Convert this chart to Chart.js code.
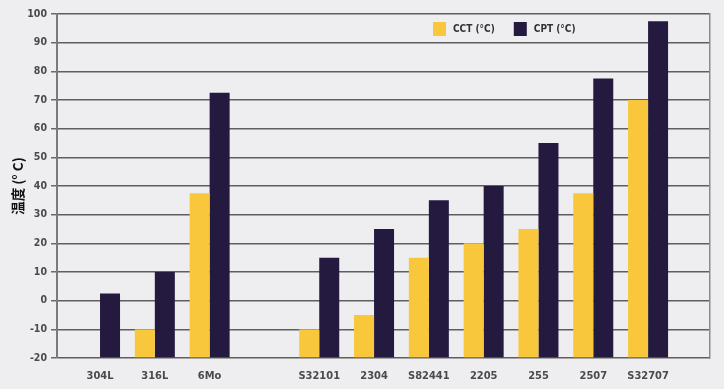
<!DOCTYPE html>
<html><head><meta charset="utf-8">
<script src="https://cdn.jsdelivr.net/npm/chart.js@4.4.0/dist/chart.umd.min.js"></script>
<style>html,body{margin:0;padding:0;background:#eeeef0;overflow:hidden}canvas{display:block}</style>
</head><body>
<canvas id="c" width="724" height="389"></canvas>
<script>
const categories = ['304L', '316L', '6Mo', '', 'S32101', '2304', 'S82441', '2205', '255', '2507', 'S32707'];
const cctValues = [null, -10, 37.5, null, -10, -5, 15, 20, 25, 37.5, 70];
const cptValues = [2.5, 10, 72.5, null, 15, 25, 35, 40, 55, 77.5, 97.5];
const seriesLabels = ['CCT (°C)', 'CPT (°C)'];
const yTicks = [-20, -10, 0, 10, 20, 30, 40, 50, 60, 70, 80, 90, 100];
const yTitle = '温度 (° C)';

const NARROW = "'Liberation Sans Narrow', 'DejaVu Sans Condensed', 'Arial Narrow', sans-serif";

const toPoints = vals => vals.map((v, i) => ({ x: i, y: v }));

const insideLegend = {
  id: 'insideLegend',
  afterDraw(chart) {
    const ctx = chart.ctx, a = chart.chartArea;
    let x = a.left + 376;
    const y = a.top + 15;
    ctx.save();
    ctx.font = "bold 10px " + NARROW;
    ctx.textBaseline = 'middle';
    ctx.textAlign = 'left';
    chart.data.datasets.forEach(ds => {
      ctx.fillStyle = ds.backgroundColor;
      ctx.fillRect(x, y - 7, 13, 14);
      ctx.fillStyle = '#333';
      ctx.fillText(ds.label, x + 20, y + 0.5);
      x += 20 + ctx.measureText(ds.label).width + 19;
    });
    ctx.restore();
  }
};

new Chart(document.getElementById('c'), {
  type: 'bar',
  data: {
    datasets: [
      { label: seriesLabels[0], data: toPoints(cctValues), backgroundColor: '#f8c73c', base: yTicks[0] },
      { label: seriesLabels[1], data: toPoints(cptValues), backgroundColor: '#241a40', base: yTicks[0] }
    ]
  },
  options: {
    responsive: false,
    animation: false,
    layout: { padding: { top: 14, right: 14, left: 0, bottom: 0 } },
    datasets: { bar: { categoryPercentage: 0.73, barPercentage: 1.0, borderWidth: 0 } },
    plugins: { legend: { display: false }, tooltip: { enabled: false } },
    scales: {
      x: {
        type: 'linear',
        offset: false,
        min: -0.785,
        max: 11.13,
        afterBuildTicks: s => { s.ticks = categories.map((c, i) => ({ value: i })); },
        afterFit: s => { s.height = 31; },
        grid: { display: false, drawTicks: false, offset: false },
        border: { display: false },
        ticks: {
          autoSkip: false, maxRotation: 0, padding: 12,
          callback: v => categories[v] ?? '',
          color: '#4a4a4a',
          font: { family: NARROW, size: 11, weight: 'bold' }
        }
      },
      y: {
        min: yTicks[0],
        max: yTicks[yTicks.length - 1],
        afterFit: s => { s.width = 57; },
        ticks: {
          stepSize: yTicks[1] - yTicks[0],
          padding: 4,
          color: '#4a4a4a',
          font: { family: NARROW, size: 10.5, weight: 'bold' }
        },
        grid: { color: '#5e5e5e', lineWidth: 1.5, tickLength: 6, tickColor: '#6a6a6a' },
        border: { color: '#7a7a7a', width: 2 },
        title: {
          display: true, text: yTitle, color: '#111',
          font: { family: "'Noto Sans CJK SC', sans-serif", size: 13.5, weight: 'bold' },
          padding: { top: 10, bottom: 0 }
        }
      },
      y2: {
        position: 'right',
        display: true,
        afterFit: s => { s.width = 0; },
        grid: { drawOnChartArea: false, drawTicks: false },
        ticks: { display: false },
        border: { color: '#8a8a8a', width: 1.5 }
      }
    }
  },
  plugins: [insideLegend]
});
</script>
</body></html>
